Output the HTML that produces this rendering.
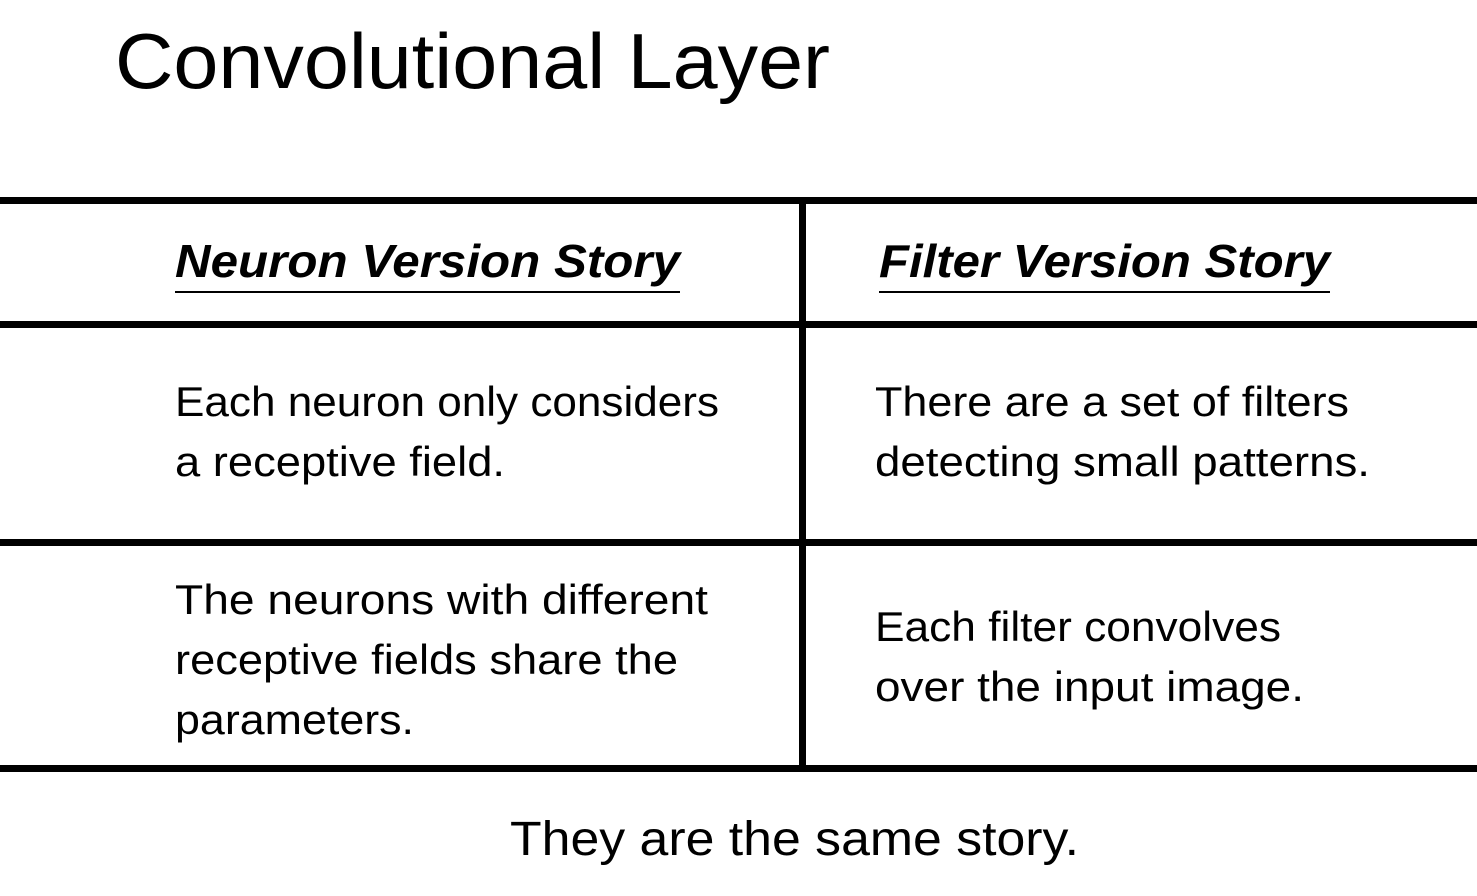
<!DOCTYPE html>
<html><head><meta charset="utf-8"><style>
html,body{margin:0;padding:0;background:#fff;}
svg{display:block;}
text{font-family:"Liberation Sans",sans-serif;fill:#000;}
</style></head><body>
<svg width="1477" height="896" viewBox="0 0 1477 896" xmlns="http://www.w3.org/2000/svg">
<text x="115" y="88" font-size="78" textLength="715" lengthAdjust="spacingAndGlyphs">Convolutional Layer</text>
<rect x="0" y="197" width="1477" height="7" fill="#000"/>
<rect x="0" y="321" width="1477" height="7" fill="#000"/>
<rect x="0" y="539" width="1477" height="7" fill="#000"/>
<rect x="0" y="765" width="1477" height="7" fill="#000"/>
<rect x="799" y="197" width="7" height="575" fill="#000"/>
<text x="175" y="277" font-size="46" font-weight="bold" font-style="italic" textLength="505" lengthAdjust="spacingAndGlyphs">Neuron Version Story</text>
<rect x="175" y="291" width="505" height="2" fill="#000"/>
<text x="879" y="277" font-size="46" font-weight="bold" font-style="italic" textLength="451" lengthAdjust="spacingAndGlyphs">Filter Version Story</text>
<rect x="879" y="291" width="451" height="2" fill="#000"/>
<g font-size="42">
<text x="175" y="416" textLength="544" lengthAdjust="spacingAndGlyphs">Each neuron only considers</text>
<text x="175" y="476" textLength="330" lengthAdjust="spacingAndGlyphs">a receptive field.</text>
<text x="875" y="416" textLength="474" lengthAdjust="spacingAndGlyphs">There are a set of filters</text>
<text x="875" y="476" textLength="495" lengthAdjust="spacingAndGlyphs">detecting small patterns.</text>
<text x="175" y="614" textLength="533" lengthAdjust="spacingAndGlyphs">The neurons with different</text>
<text x="175" y="674" textLength="503" lengthAdjust="spacingAndGlyphs">receptive fields share the</text>
<text x="175" y="734" textLength="239" lengthAdjust="spacingAndGlyphs">parameters.</text>
<text x="875" y="641" textLength="406" lengthAdjust="spacingAndGlyphs">Each filter convolves</text>
<text x="875" y="701" textLength="429" lengthAdjust="spacingAndGlyphs">over the input image.</text>
</g>
<text x="510" y="855" font-size="48" textLength="569" lengthAdjust="spacingAndGlyphs">They are the same story.</text>
</svg>
</body></html>
